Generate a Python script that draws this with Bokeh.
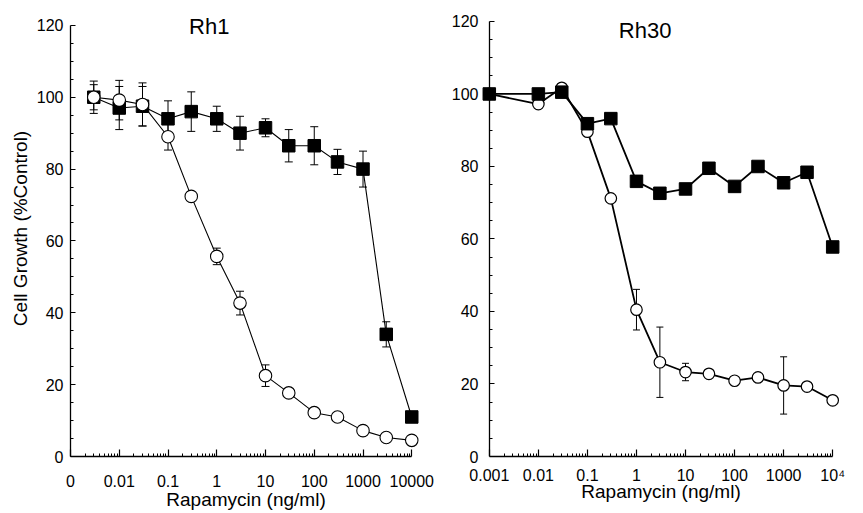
from bokeh.plotting import figure
from bokeh.layouts import row
from bokeh.models import (Range1d, FixedTicker, Whisker, TeeHead, ColumnDataSource, Label,
                          LinearAxis)
from bokeh.embed import file_html
from bokeh.resources import INLINE

# ---------------- data ----------------
dose_rh1 = [0.003, 0.01, 0.03, 0.1, 0.3, 1, 3, 10, 30, 100, 300, 1000, 3000, 10000]
rh1_square = [100, 97, 97.5, 94, 96, 94, 90, 91.5, 86.5, 86.5, 82, 80, 34, 11]
rh1_square_sd = [4.5, 6, 5.5, 5, 5.5, 3.5, 4.7, 2.5, 4.5, 5.3, 3.5, 5, 3.5, 0]
rh1_circle = [100, 99.2, 98, 89, 72.4, 55.7, 42.7, 22.5, 17.7, 12.2, 11, 7.2, 5.3, 4.5]
rh1_circle_sd = [3.5, 5.5, 6, 3.7, 0, 2.3, 3.3, 3, 0, 0, 0, 0, 0, 0]

dose_rh30 = [0.001, 0.01, 0.03, 0.1, 0.3, 1, 3, 10, 30, 100, 300, 1000, 3000, 10000]
rh30_square = [100, 100, 100.5, 91.8, 93.2, 75.9, 72.6, 73.8, 79.5, 74.5, 80, 75.5, 78.4, 57.8]
rh30_circle = [100, 97.2, 101.7, 89.6, 71.2, 40.5, 26, 23.3, 22.8, 20.9, 21.8, 19.6, 19.3, 15.5]
rh30_circle_sd = [0, 0, 0, 0, 0, 5.6, 9.7, 2.4, 0, 0, 0, 7.9, 0, 0]

x_major = [0.001, 0.01, 0.1, 1, 10, 100, 1000, 10000]
x_labels_rh1 = ["0", "0.01", "0.1", "1", "10", "100", "1000", "10000"]
x_labels_rh30 = ["0.001", "0.01", "0.1", "1", "10", "100", "1000", "10\u2074"]
y_major = [0, 20, 40, 60, 80, 100, 120]
y_minor = [v for v in range(0, 121, 5) if v % 20]
x_minor = [k * 10.0 ** d for d in range(-3, 4) for k in range(2, 10)]

FONT = "Liberation Sans"


def err_source(x, y, sd):
    xs, lo, hi = [], [], []
    for xi, yi, si in zip(x, y, sd):
        if si > 0:
            xs.append(xi)
            lo.append(yi - si)
            hi.append(yi + si)
    return ColumnDataSource(dict(x=xs, lower=lo, upper=hi))


def style_axis(ax):
    ax.axis_line_color = "black"
    ax.axis_line_width = 1.3
    ax.major_tick_line_color = "black"
    ax.minor_tick_line_color = "black"
    ax.major_tick_line_width = 1.2
    ax.minor_tick_line_width = 1.0
    ax.major_tick_out = 0
    ax.minor_tick_out = 0
    ax.major_label_text_font = FONT
    ax.major_label_text_font_size = "16px"
    ax.major_label_text_color = "black"
    ax.axis_label_text_font = FONT
    ax.axis_label_text_font_size = "19px"
    ax.axis_label_text_font_style = "normal"
    ax.axis_label_text_color = "black"


def make_fig(width, height, b_left, b_right, b_bottom, xlo, xhi, ytop, labels,
             lab_standoff, axlab_standoff, ylab_standoff):
    p = figure(width=width, height=height, x_axis_type="log",
               x_range=Range1d(xlo, xhi), y_range=Range1d(0, ytop),
               output_backend="svg", toolbar_location=None,
               min_border_left=b_left, min_border_right=b_right,
               min_border_top=0, min_border_bottom=b_bottom)
    p.title.visible = False
    p.outline_line_color = None
    p.background_fill_color = "white"
    p.border_fill_color = "white"
    p.xgrid.visible = False
    p.ygrid.visible = False

    xa = p.xaxis[0]
    style_axis(xa)
    xa.ticker = FixedTicker(ticks=x_major, minor_ticks=x_minor)
    xa.major_label_overrides = {t: l for t, l in zip(x_major, labels)}
    xa.axis_label = "Rapamycin (ng/ml)"
    xa.major_label_standoff = lab_standoff
    xa.axis_label_standoff = axlab_standoff
    xa.bounds = (0.001, 10000)
    xa.major_tick_in = 7
    xa.minor_tick_in = 3

    ya = p.yaxis[0]
    style_axis(ya)
    ya.ticker = FixedTicker(ticks=y_major, minor_ticks=y_minor)
    ya.bounds = (0, 120)
    ya.major_label_standoff = ylab_standoff
    ya.major_tick_in = 5
    ya.minor_tick_in = 3
    return p


# ---------------- Rh1 ----------------
p1 = make_fig(435, 512, 70, 14, 54, 0.001, 10 ** 4.2, 126.93, x_labels_rh1, 18, -1, 7)
p1.yaxis[0].axis_label = "Cell Growth (%Control)"
p1.yaxis[0].axis_label_standoff = 3

p1.add_layout(Whisker(source=err_source(dose_rh1, rh1_square, rh1_square_sd), base="x",
                      lower="lower", upper="upper", dimension="height",
                      upper_head=TeeHead(size=8, line_width=1), lower_head=TeeHead(size=8, line_width=1),
                      line_color="black", line_width=1))
p1.add_layout(Whisker(source=err_source(dose_rh1, rh1_circle, rh1_circle_sd), base="x",
                      lower="lower", upper="upper", dimension="height",
                      upper_head=TeeHead(size=8, line_width=1), lower_head=TeeHead(size=8, line_width=1),
                      line_color="black", line_width=1))

p1.line(dose_rh1, rh1_square, line_color="black", line_width=1.1)
p1.scatter(dose_rh1, rh1_square, marker="square", size=12.5, fill_color="black", line_color="black")
p1.line(dose_rh1, rh1_circle, line_color="black", line_width=1.1)
p1.scatter(dose_rh1, rh1_circle, marker="circle", size=12.5, fill_color="white",
           line_color="black", line_width=1.1)

p1.add_layout(Label(x=0.7, y=119.7, text="Rh1", text_align="center", text_baseline="alphabetic",
                    text_font=FONT, text_font_size="22px", text_color="black"))

# ---------------- Rh30 ----------------
p2 = make_fig(423, 512, 44, 16, 55, 10 ** -3.2, 10 ** 4.2, 125.78, x_labels_rh30, 10, -6, 1)
# frame-edge axis: labels only
ya2 = p2.yaxis[0]
ya2.axis_line_color = None
ya2.major_tick_line_color = None
ya2.minor_tick_line_color = None
# axis line and ticks at x = 0.001
ya_line = LinearAxis(fixed_location=0.001, ticker=FixedTicker(ticks=y_major, minor_ticks=y_minor),
                     bounds=(0, 120))
style_axis(ya_line)
ya_line.major_tick_in = 5
ya_line.minor_tick_in = 3
ya_line.major_label_text_color = None
ya_line.major_label_text_font_size = "1px"
ya_line.major_label_standoff = 0
p2.add_layout(ya_line, "left")

p2.add_layout(Whisker(source=err_source(dose_rh30, rh30_circle, rh30_circle_sd), base="x",
                      lower="lower", upper="upper", dimension="height",
                      upper_head=TeeHead(size=7, line_width=1), lower_head=TeeHead(size=7, line_width=1),
                      line_color="black", line_width=1))

p2.line(dose_rh30, rh30_circle, line_color="black", line_width=1.8)
p2.scatter(dose_rh30, rh30_circle, marker="circle", size=11.5, fill_color="white",
           line_color="black", line_width=1.2)
p2.line(dose_rh30, rh30_square, line_color="black", line_width=1.8)
p2.scatter(dose_rh30, rh30_square, marker="square", size=12.5, fill_color="black", line_color="black")

p2.add_layout(Label(x=1.5, y=117.5, text="Rh30", text_align="center", text_baseline="alphabetic",
                    text_font=FONT, text_font_size="22px", text_color="black"))

layout = row(p1, p2, spacing=0)

with open("out.html", "w") as f:
    f.write(file_html(layout, INLINE))
